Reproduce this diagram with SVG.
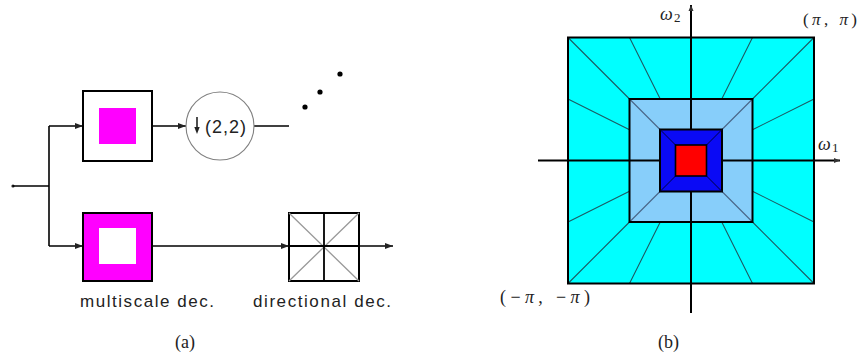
<svg xmlns="http://www.w3.org/2000/svg" width="859" height="358" viewBox="0 0 859 358">
<defs>
<style>
.ln{stroke:#000;stroke-width:1.6;fill:none}
.box{stroke:#000;stroke-width:2;fill:#fff}
.sans{font-family:"Liberation Sans",Arial,sans-serif;fill:#222}
.serif{font-family:"Liberation Serif","Times New Roman",serif;fill:#222}
.ray{stroke:#1d5a63;stroke-width:1.1}
.ray2{stroke:#4a6688;stroke-width:1.1}
.ray3{stroke:#000040;stroke-width:1}
.sq{stroke:#000;stroke-width:2}
</style>
<marker id="ah" viewBox="0 0 8 6" refX="8" refY="3" markerWidth="8" markerHeight="6" markerUnits="userSpaceOnUse" orient="auto">
<path d="M0,0 L8,3 L0,6 z" fill="#222"/>
</marker>
<marker id="ahs" viewBox="0 0 6 6" refX="6" refY="3" markerWidth="6" markerHeight="6" markerUnits="userSpaceOnUse" orient="auto">
<path d="M0,0.5 L6,3 L0,5.5 z" fill="#333"/>
</marker>
</defs>
<rect width="859" height="358" fill="#fff"/>

<!-- Panel (a) -->
<g id="connectors">
<circle cx="13" cy="186" r="1.6" fill="#222"/>
<path class="ln" d="M13,186 H49"/>
<path class="ln" d="M49,126 V246"/>
<path class="ln" d="M49,126 H83" marker-end="url(#ah)"/>
<path class="ln" d="M49,246 H83" marker-end="url(#ah)"/>
<path class="ln" d="M152,126 H186" marker-end="url(#ah)"/>
<path class="ln" d="M254,126 H289"/>
<path class="ln" d="M152,246 H289" marker-end="url(#ah)"/>
<path class="ln" d="M359,246 H393" marker-end="url(#ah)"/>
</g>

<g id="lowpass">
<rect class="box" x="83" y="91" width="69" height="70"/>
<rect x="99" y="108" width="37" height="36" fill="#ff00ff"/>
</g>

<g id="downsample">
<circle cx="220" cy="126" r="34" fill="#fff" stroke="#808080" stroke-width="1.1"/>
<path d="M197,117 V128" stroke="#222" stroke-width="1.6"/>
<path d="M194.3,127 L197,134 L199.7,127 z" fill="#222"/>
<text class="sans" x="205" y="133" font-size="18" textLength="41" lengthAdjust="spacing">(2,2)</text>
</g>

<g id="dots">
<circle cx="305" cy="107" r="2.6" fill="#000"/>
<circle cx="320" cy="92" r="2.6" fill="#000"/>
<circle cx="340" cy="74" r="2.6" fill="#000"/>
</g>

<g id="highpass">
<rect x="83" y="213" width="69" height="68" fill="#ff00ff" stroke="#000" stroke-width="2"/>
<rect x="99" y="228" width="37" height="36" fill="#fff"/>
</g>

<g id="directional">
<rect class="box" x="289" y="213" width="70" height="68"/>
<path d="M289,213 L359,281 M359,213 L289,281" stroke="#999" stroke-width="1.3"/>
<path d="M324,213 V281 M289,246 H359" stroke="#000" stroke-width="1.8"/>
</g>

<g id="labels-a">
<text class="sans" x="80" y="307" font-size="17" textLength="134" lengthAdjust="spacing">multiscale dec.</text>
<text class="sans" x="253" y="307" font-size="17" textLength="138" lengthAdjust="spacing">directional dec.</text>
<text class="serif" x="175" y="348" font-size="18">(a)</text>
</g>

<!-- Panel (b) -->
<g id="spectrum">
<rect x="568" y="37.5" width="246" height="246" fill="#00ffff"/>
<g class="ray">
<path d="M568,37.5 L629.5,99 M814,37.5 L752.5,99 M568,283.5 L629.5,222 M814,283.5 L752.5,222"/>
<path d="M629.5,37.5 L660.25,99 M752.5,37.5 L721.75,99 M629.5,283.5 L660.25,222 M752.5,283.5 L721.75,222"/>
<path d="M568,99 L629.5,129.75 M568,222 L629.5,191.25 M814,99 L752.5,129.75 M814,222 L752.5,191.25"/>
</g>
<rect class="sq" x="568" y="37.5" width="246" height="246" fill="none"/>
<rect x="629.5" y="99" width="123" height="123" fill="#87cefa"/>
<path class="ray2" d="M629.5,99 L660,129.5 M752.5,99 L722,129.5 M629.5,222 L660,191.5 M752.5,222 L722,191.5"/>
<rect class="sq" x="629.5" y="99" width="123" height="123" fill="none"/>
</g>

<g id="axes">
<path d="M538,160.5 H840" stroke="#000" stroke-width="2" marker-end="url(#ahs)"/>
<path d="M691,313 V5" stroke="#000" stroke-width="2" marker-end="url(#ahs)"/>
</g>

<g id="core">
<rect class="sq" x="660" y="129.5" width="62" height="62" fill="#0a0af5"/>
<path class="ray3" d="M660,129.5 L675.5,145 M722,129.5 L706.5,145 M660,191.5 L675.5,176 M722,191.5 L706.5,176"/>
<rect x="675.5" y="145" width="31" height="31" fill="#ff0000" stroke="#000" stroke-width="1.6"/>
</g>

<g id="labels-b">
<text class="serif" x="660" y="20" font-size="18" font-style="italic">ω</text>
<text class="serif" x="674" y="22" font-size="13">2</text>
<text class="serif" x="818" y="150" font-size="18" font-style="italic">ω</text>
<text class="serif" x="832" y="152" font-size="13">1</text>
<text class="serif" x="803" y="25" font-size="17" textLength="54" lengthAdjust="spacing">(<tspan font-style="italic">π</tspan>, <tspan font-style="italic">π</tspan>)</text>
<text class="serif" x="500" y="303" font-size="18" textLength="90" lengthAdjust="spacing">(−<tspan font-style="italic">π</tspan>, −<tspan font-style="italic">π</tspan>)</text>
<text class="serif" x="658" y="348" font-size="18">(b)</text>
</g>
</svg>
